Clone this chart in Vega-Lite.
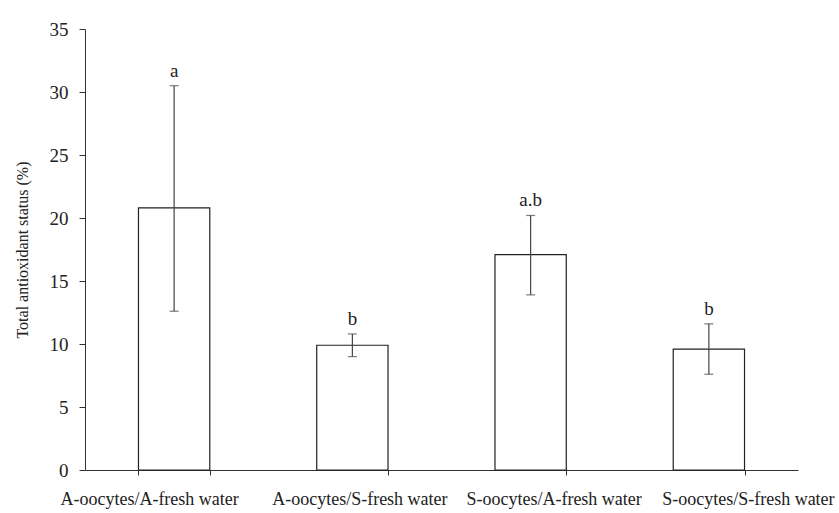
{
  "$schema": "https://vega.github.io/schema/vega-lite/v6.json",
  "width": 713,
  "height": 441,
  "autosize": "none",
  "padding": {"left": 85, "top": 29, "right": 41, "bottom": 43},
  "background": "white",
  "config": {
    "view": {"stroke": null},
    "font": "Liberation Serif",
    "axis": {
      "grid": false,
      "domainColor": "#333",
      "tickColor": "#333",
      "labelColor": "#222",
      "titleColor": "#222",
      "labelFont": "Liberation Serif",
      "titleFont": "Liberation Serif",
      "titleFontWeight": "normal"
    }
  },
  "data": {
    "values": [
      {"group": "A-oocytes/A-fresh water", "mean": 20.8, "lo": 12.6, "hi": 30.5, "sig": "a"},
      {"group": "A-oocytes/S-fresh water", "mean": 9.9, "lo": 9.0, "hi": 10.8, "sig": "b"},
      {"group": "S-oocytes/A-fresh water", "mean": 17.1, "lo": 13.9, "hi": 20.2, "sig": "a.b"},
      {"group": "S-oocytes/S-fresh water", "mean": 9.6, "lo": 7.6, "hi": 11.6, "sig": "b"}
    ]
  },
  "encoding": {
    "x": {
      "field": "group",
      "type": "nominal",
      "sort": null,
      "scale": {"paddingInner": 0.6, "paddingOuter": 0.3},
      "axis": {
        "title": null,
        "labelAngle": 0,
        "tickBand": "extent",
        "tickSize": 5,
        "labelPadding": 15,
        "labelFontSize": 18,
        "labelOverlap": false,
        "labelLimit": 0,
        "labelOffset": {
          "condition": [
            {"test": "datum.value === 'A-oocytes/A-fresh water'", "value": -25},
            {"test": "datum.value === 'A-oocytes/S-fresh water'", "value": 7},
            {"test": "datum.value === 'S-oocytes/A-fresh water'", "value": 23}
          ],
          "value": 39
        }
      }
    }
  },
  "layer": [
    {
      "mark": {"type": "bar", "fill": "white", "stroke": "#222", "strokeWidth": 1.2},
      "encoding": {
        "y": {
          "field": "mean",
          "type": "quantitative",
          "title": "Total antioxidant status (%)",
          "scale": {"domain": [0, 35], "nice": false},
          "axis": {
            "values": [0, 5, 10, 15, 20, 25, 30, 35],
            "tickSize": 6,
            "labelPadding": 11,
            "labelFontSize": 19,
            "titleFontSize": 16,
            "titlePadding": 19
          }
        }
      }
    },
    {
      "mark": {"type": "rule", "color": "#444", "strokeWidth": 1.2},
      "encoding": {
        "y": {"field": "lo", "type": "quantitative", "title": "Total antioxidant status (%)"},
        "y2": {"field": "hi"}
      }
    },
    {
      "mark": {"type": "tick", "color": "#444", "size": 9, "thickness": 1.2},
      "encoding": {
        "y": {"field": "lo", "type": "quantitative", "title": "Total antioxidant status (%)"}
      }
    },
    {
      "mark": {"type": "tick", "color": "#444", "size": 9, "thickness": 1.2},
      "encoding": {
        "y": {"field": "hi", "type": "quantitative", "title": "Total antioxidant status (%)"}
      }
    },
    {
      "mark": {"type": "text", "dy": -9, "baseline": "alphabetic", "fontSize": 19, "font": "Liberation Serif", "color": "#222"},
      "encoding": {
        "y": {"field": "hi", "type": "quantitative", "title": "Total antioxidant status (%)"},
        "text": {"field": "sig"}
      }
    }
  ]
}
